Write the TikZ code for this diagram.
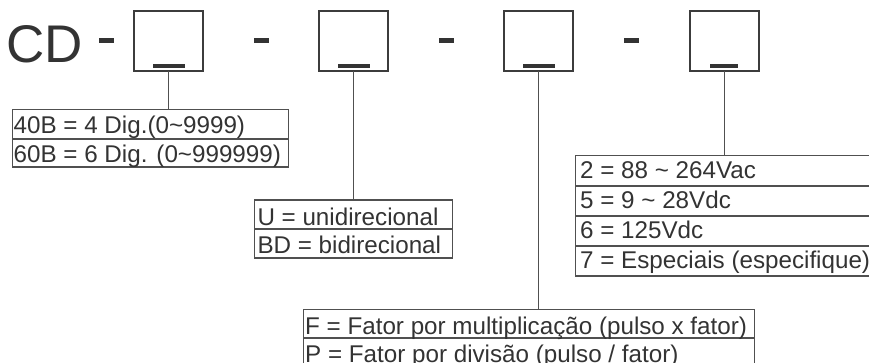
\documentclass[tikz,border=0pt]{standalone}
\usepackage{fontspec}
\setmainfont{Liberation Sans}
\definecolor{ink}{HTML}{333333}
\definecolor{frame}{HTML}{3C3C3C}
\definecolor{rule}{HTML}{505050}
\begin{document}
\begin{tikzpicture}[x=1pt,y=-1pt,
  digbox/.style={draw=frame,line width=2pt,minimum width=69pt,minimum height=60pt,inner sep=0pt,outer sep=0pt},
  bar/.style={fill=ink,minimum width=32pt,minimum height=4.5pt,inner sep=0pt},
  hyph/.style={fill=ink,minimum width=15pt,minimum height=5pt,inner sep=0pt},
  row/.style={draw=rule,line width=1.3pt,anchor=north west,inner sep=0pt,outer sep=0pt},
  txt/.style={anchor=base west,inner sep=0pt,text=ink,font=\fontsize{24.2}{24.2}\selectfont},
  conn/.style={draw=rule,line width=1.4pt}]
\useasboundingbox (0,0) rectangle (869,362);
% title
\node[anchor=base west,inner sep=0pt,text=ink,font=\fontsize{53}{53}\selectfont] (cd) at (6.5,62) {CD};
\node[hyph] (h1) at (106.5,40.5) {};
\node[hyph] (h2) at (261.5,40.5) {};
\node[hyph] (h3) at (446.5,40.5) {};
\node[hyph] (h4) at (631.5,40.5) {};
% digit boxes
\node[digbox] (b1) at (168.5,41) {};
\node[digbox] (b2) at (353.5,41) {};
\node[digbox] (b3) at (538.5,41) {};
\node[digbox] (b4) at (724.5,41) {};
\node[bar] (k1) at (169,66) {};
\node[bar] (k2) at (354,66) {};
\node[bar] (k3) at (539,66) {};
\node[bar,minimum width=28pt] (k4) at (724,66) {};
% table 1
\node[row,minimum width=276pt,minimum height=29.5pt] (t1a) at (12.5,109.5) {};
\node[row,minimum width=276pt,minimum height=28pt] (t1b) at (12.5,139) {};
\node[txt] (x1a) at (13.5,133.3) {40B = 4 Dig.(0\textasciitilde9999)};
\node[txt] (x1b) at (13.5,162.3) {60B = 6 Dig. (0\textasciitilde999999)};
% table 2
\node[row,minimum width=198pt,minimum height=29pt] (t2a) at (254.5,200) {};
\node[row,minimum width=198pt,minimum height=29pt] (t2b) at (254.5,229) {};
\node[txt] (x2a) at (257.3,225) {U = unidirecional};
\node[txt] (x2b) at (257.3,253.3) {BD = bidirecional};
% table 3
\node[row,minimum width=451pt,minimum height=28.5pt] (t3a) at (303.5,309.5) {};
\node[row,minimum width=451pt,minimum height=29pt] (t3b) at (303.5,338) {};
\node[txt] (x3a) at (305,334) {F = Fator por multiplicação (pulso x fator)};
\node[txt] (x3b) at (305,362) {P = Fator por divisão (pulso / fator)};
% table 4
\node[row,minimum width=300pt,minimum height=30.5pt] (t4a) at (575.5,155.5) {};
\node[row,minimum width=300pt,minimum height=30pt] (t4b) at (575.5,186) {};
\node[row,minimum width=300pt,minimum height=30pt] (t4c) at (575.5,216) {};
\node[row,minimum width=300pt,minimum height=30pt] (t4d) at (575.5,246) {};
\node[txt] (x4a) at (580,178.3) {2 = 88 \textasciitilde{} 264Vac};
\node[txt] (x4b) at (580,208.3) {5 = 9 \textasciitilde{} 28Vdc};
\node[txt] (x4c) at (580,238.3) {6 = 125Vdc};
\node[txt] (x4d) at (580,268.3) {7 = Especiais (especifique)};
% connectors
\draw[conn] (b1.south) -- (b1.south |- t1a.north);
\draw[conn] (b2.south) -- (b2.south |- t2a.north);
\draw[conn] (b3.south) -- (b3.south |- t3a.north);
\draw[conn] (b4.south) -- (b4.south |- t4a.north);
\end{tikzpicture}
\end{document}
